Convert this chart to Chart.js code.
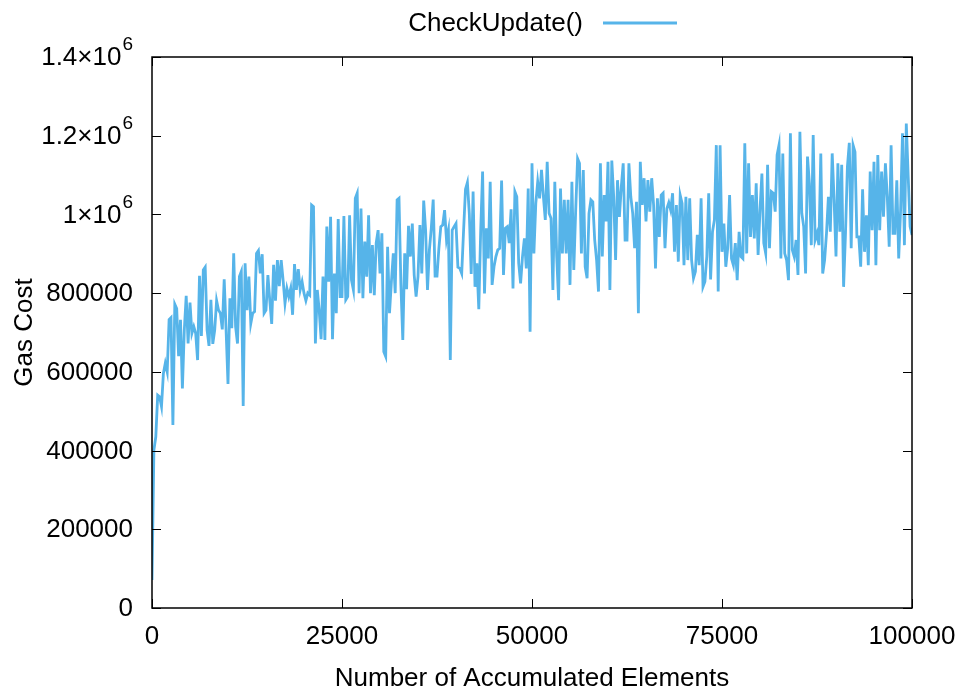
<!DOCTYPE html>
<html>
<head>
<meta charset="utf-8">
<script src="https://cdn.jsdelivr.net/npm/chart.js@4"></script>
<style>
  body { margin: 0; background: #fff; }
  #wrap { width: 969px; height: 695px; }
</style>
</head>
<body>
<div id="wrap"><canvas id="chart" width="969" height="695"></canvas></div>
<script>
// sampling step of the x axis (number of accumulated elements)
const STEP = 250;

// gas cost readings, one chunk per ~12500 elements
const gasCost0 = [71000, 401000, 435000, 541000, 537000, 512000, 596000, 622000, 600000, 733000,
  738000, 465000, 772000, 761000, 640000, 732000, 558000, 706000, 793000, 672000,
  776000, 698000, 715000, 698000, 630000, 844000, 691000, 859000, 866000, 706000,
  666000, 783000, 671000, 706000, 781000, 757000, 749000, 708000, 835000, 706000,
  569000, 787000, 711000, 901000, 715000, 672000, 842000, 855000, 513000, 876000];
const gasCost1 = [757000, 842000, 723000, 749000, 753000, 901000, 908000, 850000, 899000, 749000,
  757000, 846000, 781000, 722000, 872000, 781000, 884000, 818000, 884000, 833000,
  774000, 812000, 791000, 812000, 745000, 874000, 808000, 861000, 808000, 829000,
  800000, 781000, 800000, 795000, 1024000, 1020000, 672000, 808000, 757000, 683000,
  842000, 681000, 969000, 829000, 994000, 683000, 850000, 749000, 988000, 791000];
const gasCost2 = [791000, 996000, 783000, 791000, 998000, 833000, 808000, 1041000, 1054000, 800000,
  1015000, 787000, 931000, 842000, 998000, 800000, 922000, 795000, 928000, 960000,
  850000, 952000, 651000, 639000, 918000, 749000, 829000, 901000, 800000, 1037000,
  1041000, 821000, 681000, 901000, 810000, 971000, 893000, 977000, 846000, 791000,
  842000, 973000, 850000, 1035000, 960000, 808000, 910000, 965000, 1038000, 843000];
const gasCost3 = [843000, 914000, 969000, 973000, 1011000, 935000, 960000, 630000, 960000, 969000,
  977000, 866000, 863000, 850000, 960000, 1064000, 1081000, 1003000, 849000, 1058000,
  816000, 876000, 759000, 960000, 1109000, 799000, 965000, 888000, 1083000, 821000,
  867000, 893000, 910000, 914000, 1086000, 846000, 965000, 969000, 927000, 1013000,
  812000, 1058000, 1045000, 876000, 825000, 893000, 939000, 863000, 1066000, 702000];
const gasCost4 = [1130000, 901000, 1028000, 1083000, 1041000, 1113000, 1045000, 986000, 1134000, 1003000,
  990000, 808000, 1083000, 893000, 782000, 1066000, 901000, 1037000, 901000, 1037000,
  821000, 1083000, 859000, 1011000, 1142000, 1130000, 901000, 1113000, 867000, 838000,
  1003000, 1037000, 1032000, 935000, 884000, 804000, 1130000, 893000, 1049000, 982000,
  1134000, 808000, 1137000, 1045000, 884000, 1087000, 994000, 1070000, 1130000, 935000];
const gasCost5 = [935000, 1130000, 1045000, 1003000, 914000, 1032000, 749000, 1134000, 1024000, 1092000,
  982000, 1087000, 1007000, 1092000, 1024000, 863000, 1041000, 943000, 1049000, 1054000,
  914000, 1015000, 1030000, 1011000, 1054000, 905000, 1024000, 880000, 1049000, 1028000,
  871000, 1045000, 884000, 1041000, 884000, 838000, 855000, 948000, 871000, 1041000,
  816000, 829000, 893000, 1054000, 835000, 956000, 986000, 1176000, 804000, 1176000];
const gasCost6 = [905000, 977000, 867000, 914000, 1049000, 888000, 871000, 927000, 833000, 956000,
  893000, 888000, 1181000, 901000, 1130000, 943000, 1049000, 939000, 1079000, 897000,
  1011000, 1104000, 927000, 901000, 1126000, 914000, 1058000, 1054000, 1007000, 1151000,
  1176000, 888000, 1155000, 901000, 884000, 833000, 1206000, 910000, 893000, 935000,
  846000, 1210000, 1003000, 969000, 850000, 1147000, 1079000, 922000, 1202000, 935000];
const gasCost7 = [952000, 922000, 1155000, 850000, 884000, 952000, 1045000, 956000, 1155000, 1037000,
  893000, 1130000, 956000, 1126000, 816000, 952000, 1121000, 1182000, 914000, 1176000,
  1159000, 943000, 943000, 867000, 1064000, 905000, 998000, 871000, 1109000, 960000,
  1134000, 871000, 1151000, 960000, 1109000, 994000, 1130000, 1045000, 918000, 1176000,
  952000, 952000, 1087000, 888000, 1011000, 1206000, 922000, 1231000, 1096000, 969000,
  948000];

const gasCost = [].concat(gasCost0, gasCost1, gasCost2, gasCost3, gasCost4, gasCost5, gasCost6, gasCost7);
const elements = gasCost.map((v, i) => i * STEP);

const xTickValues = [0, 25000, 50000, 75000, 100000];
const yTickValues = [0, 200000, 400000, 600000, 800000, 1000000, 1200000, 1400000];
// mantissa and exponent for each y tick; exponent '' means a plain number
const yTickBase = ['0', '200000', '400000', '600000', '800000', '1\u00d710', '1.2\u00d710', '1.4\u00d710'];
const yTickExp = ['', '', '', '', '', '6', '6', '6'];

const seriesLabel = 'CheckUpdate()';
const lineColor = '#56b4e9';
const fontFamily = "'Liberation Sans', Arial, Helvetica, sans-serif";
const font = { family: fontFamily, size: 26 };

// frame with inward ticks on all four sides (gnuplot look)
const framePlugin = {
  id: 'frame',
  afterDatasetsDraw(chart) {
    const { ctx, chartArea: a, scales } = chart;
    ctx.save();
    ctx.strokeStyle = '#000';
    ctx.lineWidth = 1;
    ctx.beginPath();
    for (const v of yTickValues) {
      const y = Math.round(scales.y.getPixelForValue(v)) + 0.5;
      ctx.moveTo(a.left, y); ctx.lineTo(a.left + 9, y);
      ctx.moveTo(a.right, y); ctx.lineTo(a.right - 9, y);
    }
    for (const v of xTickValues) {
      const x = Math.round(scales.x.getPixelForValue(v)) + 0.5;
      ctx.moveTo(x, a.bottom); ctx.lineTo(x, a.bottom - 9);
      ctx.moveTo(x, a.top); ctx.lineTo(x, a.top + 9);
    }
    ctx.stroke();
    ctx.lineWidth = 1.5;
    ctx.strokeRect(a.left, a.top, a.right - a.left, a.bottom - a.top);
    ctx.restore();
  }
};

// y tick labels written as mantissa with a raised exponent
const yLabelPlugin = {
  id: 'ylabels',
  afterDraw(chart) {
    const { ctx, scales } = chart;
    const right = scales.y.right - 19;
    ctx.save();
    ctx.fillStyle = '#000';
    ctx.textBaseline = 'middle';
    ctx.textAlign = 'right';
    yTickValues.forEach((v, i) => {
      const y = scales.y.getPixelForValue(v);
      let end = right;
      if (yTickExp[i]) {
        ctx.font = '19px ' + fontFamily;
        ctx.fillText(yTickExp[i], right, y - 12);
        end = right - ctx.measureText(yTickExp[i]).width - 1;
      }
      ctx.font = font.size + 'px ' + fontFamily;
      ctx.fillText(yTickBase[i], end, y + 1);
    });
    ctx.restore();
  }
};

// key at the top: text first, then line sample
const keyPlugin = {
  id: 'key',
  afterDraw(chart) {
    const ctx = chart.ctx;
    const ds = chart.data.datasets[0];
    ctx.save();
    ctx.font = font.size + 'px ' + fontFamily;
    ctx.fillStyle = '#000';
    ctx.textAlign = 'right';
    ctx.textBaseline = 'middle';
    ctx.fillText(ds.label, 583, 24);
    ctx.strokeStyle = ds.borderColor;
    ctx.lineWidth = ds.borderWidth;
    ctx.beginPath();
    ctx.moveTo(603, 23);
    ctx.lineTo(677, 23);
    ctx.stroke();
    ctx.restore();
  }
};

new Chart(document.getElementById('chart'), {
  type: 'line',
  data: {
    labels: elements,
    datasets: [{
      label: seriesLabel,
      data: elements.map((x, i) => ({ x: x, y: gasCost[i] })),
      borderColor: lineColor,
      borderWidth: 2.8,
      pointRadius: 0,
      tension: 0,
      fill: false
    }]
  },
  options: {
    responsive: false,
    animation: false,
    devicePixelRatio: 1,
    layout: { padding: { top: 57, right: 57, bottom: 0, left: 0 } },
    plugins: { legend: { display: false }, tooltip: { enabled: false } },
    scales: {
      x: {
        type: 'linear',
        min: 0,
        max: 100000,
        afterBuildTicks: s => { s.ticks = xTickValues.map(v => ({ value: v })); },
        afterFit: s => { s.height = 87; },
        grid: { display: false, drawTicks: false },
        border: { display: false },
        ticks: { font: font, color: '#000', padding: 13, maxRotation: 0, autoSkip: false, callback: v => String(v) },
        title: { display: true, text: 'Number of Accumulated Elements', font: font, color: '#000', padding: { top: 0, bottom: 1 } }
      },
      y: {
        min: 0,
        max: 1400000,
        afterBuildTicks: s => { s.ticks = yTickValues.map(v => ({ value: v })); },
        afterFit: s => { s.width = 152; },
        grid: { display: false, drawTicks: false },
        border: { display: false },
        // labels are drawn by yLabelPlugin so the exponent can be raised
        ticks: { display: false },
        title: { display: true, text: 'Gas Cost', font: font, color: '#000', padding: { top: 9, bottom: 0 } }
      }
    }
  },
  plugins: [framePlugin, yLabelPlugin, keyPlugin]
});
</script>
</body>
</html>
